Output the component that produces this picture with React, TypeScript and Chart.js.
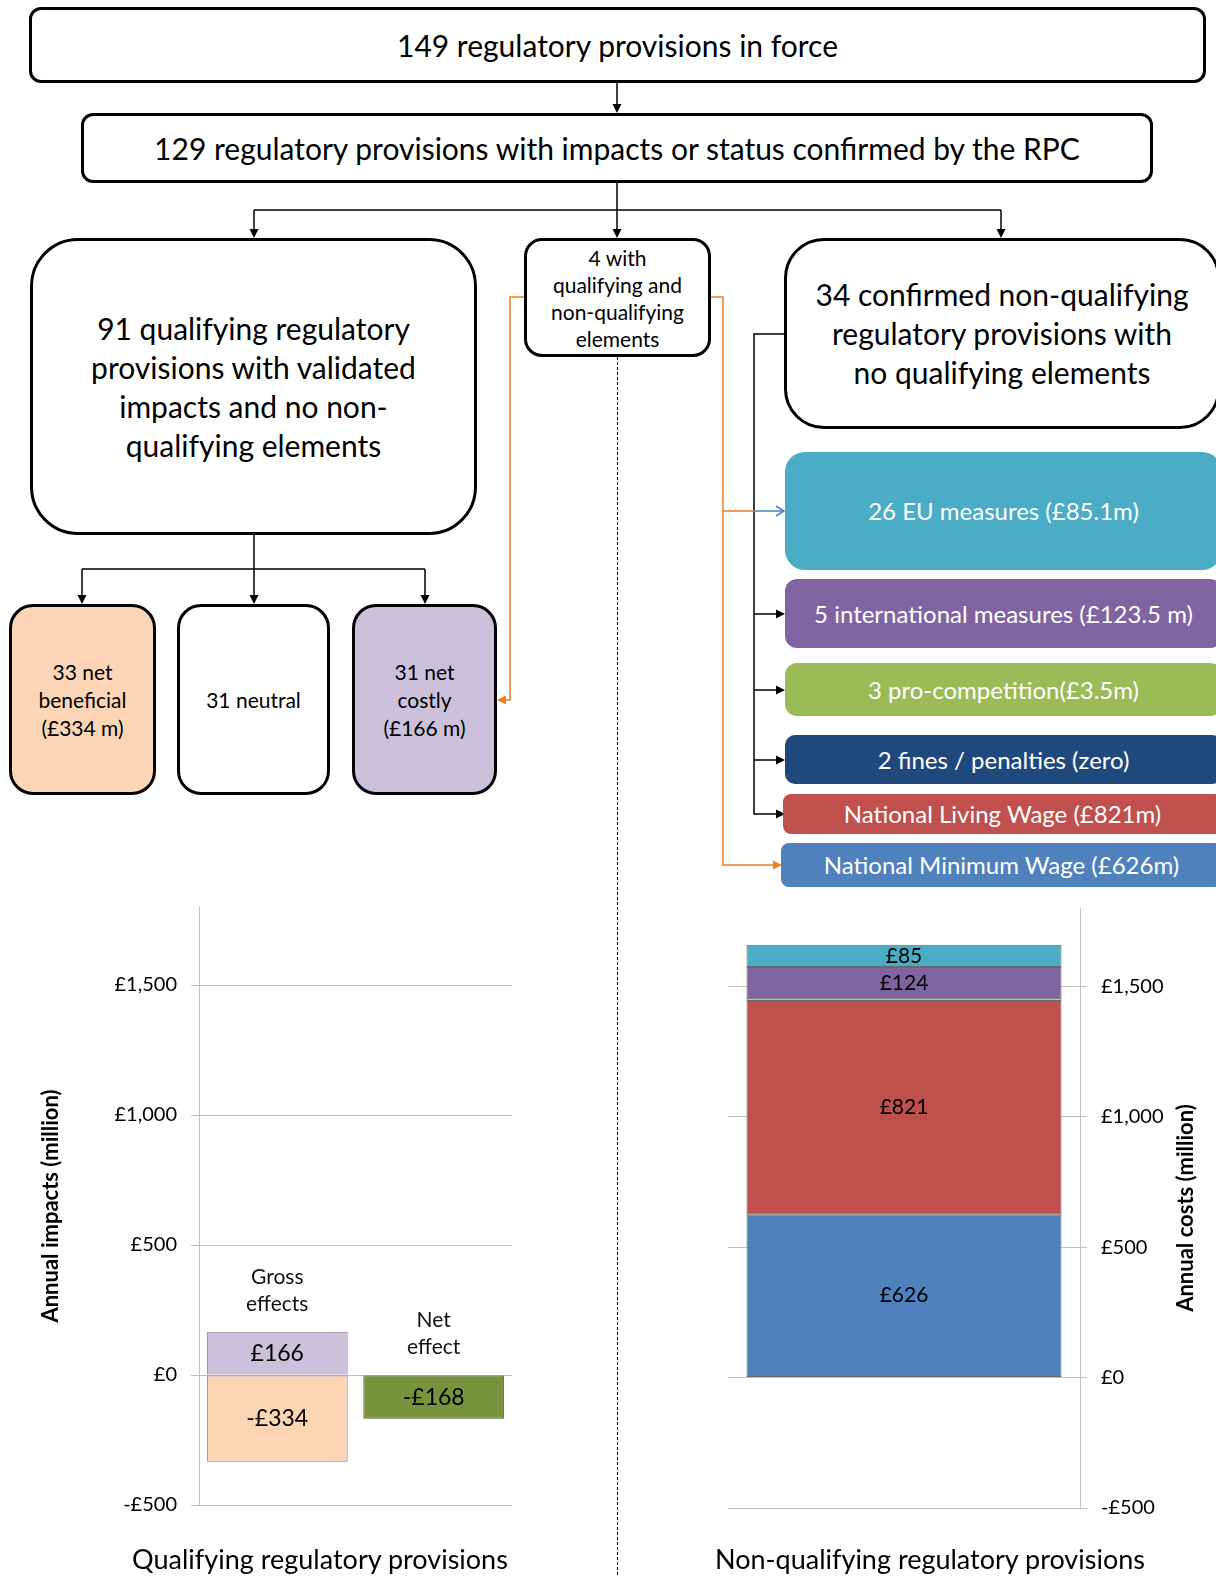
import React, { useEffect, useRef } from 'react';
import { Chart, registerables } from 'chart.js';

Chart.register(...registerables);

const FONT = 'Lato, "Open Sans", sans-serif';

// ---- Qualifying regulatory provisions chart ----
const qualCategories = [['Gross', 'effects'], ['Net', 'effect']];
const qualCosts = [166, null];
const qualBenefits = [-334, null];
const qualNet = [null, -168];

// ---- Non-qualifying regulatory provisions chart ----
const nonQualCategories = ['Non-qualifying regulatory provisions'];
const nmwValues = [626];
const nlwValues = [821];
const proCompValues = [3.5];
const finesValues = [0];
const intlValues = [123.5];
const euValues = [85.1];

// ---- Shared axis ----
const axisMin = -500;
const axisMax = 1800;
const tickValues = [-500, 0, 500, 1000, 1500];

const fmtMoney = (v: number) => (v < 0 ? '-£' : '£') + Math.abs(Math.round(v)).toLocaleString('en-GB');

const segmentLabels = {
  id: 'segmentLabels',
  afterDatasetsDraw(chart: any, _args: any, opts: any) {
    const { ctx } = chart;
    ctx.save();
    ctx.font = opts.font;
    ctx.fillStyle = opts.color || '#000';
    ctx.textAlign = 'center';
    ctx.textBaseline = 'middle';
    chart.data.datasets.forEach((ds: any, di: number) => {
      const meta = chart.getDatasetMeta(di);
      meta.data.forEach((el: any, i: number) => {
        const v = ds.data[i];
        if (v == null || Math.abs(v) < (opts.minValue || 0)) return;
        const p = el.getProps(['x', 'y', 'base'], true);
        ctx.fillText(fmtMoney(v), p.x, (p.y + p.base) / 2 + (opts.dy || 0));
      });
    });
    ctx.restore();
  },
};

const categoryAbove = {
  id: 'categoryAbove',
  afterDatasetsDraw(chart: any, _args: any, opts: any) {
    if (!opts || !opts.enabled) return;
    const { ctx } = chart;
    const ys = chart.scales.y;
    ctx.save();
    ctx.font = opts.font;
    ctx.fillStyle = opts.color || '#000';
    ctx.textAlign = 'center';
    ctx.textBaseline = 'middle';
    (chart.data.labels as any[]).forEach((lab, i) => {
      let top = 0;
      let x: number | null = null;
      chart.data.datasets.forEach((ds: any, di: number) => {
        const v = ds.data[i];
        if (v == null) return;
        if (v > 0) top += v;
        x = chart.getDatasetMeta(di).data[i].x;
      });
      if (x == null) return;
      const lines = Array.isArray(lab) ? lab : [lab];
      const yLast = ys.getPixelForValue(top) - opts.gap;
      lines.forEach((ln: string, k: number) => {
        ctx.fillText(ln, x, yLast - (lines.length - 1 - k) * opts.lineHeight);
      });
    });
    ctx.restore();
  },
};

const tickFont = { family: FONT, size: 20 };
const gridColor = '#BFBFBF';

const yAxisBase = (width: number) => ({
  stacked: true,
  min: axisMin,
  max: axisMax,
  ticks: {
    font: tickFont,
    color: '#000',
    padding: 14,
    callback: (v: any) => fmtMoney(Number(v)),
  },
  afterBuildTicks: (s: any) => { s.ticks = tickValues.map((v) => ({ value: v })); },
  afterFit: (s: any) => { s.width = width; s.paddingTop = 0; s.paddingBottom = 0; },
  border: { color: gridColor },
});

function QualChart() {
  const ref = useRef<HTMLCanvasElement>(null);
  useEffect(() => {
    const chart = new Chart(ref.current as HTMLCanvasElement, {
      type: 'bar',
      data: {
        labels: qualCategories as any,
        datasets: [
          { label: 'Gross costs', data: qualCosts, backgroundColor: '#CCC1DA', borderColor: '#7F7F7F', borderWidth: 1, borderSkipped: false },
          { label: 'Gross benefits', data: qualBenefits, backgroundColor: '#FCD5B5', borderColor: '#7F7F7F', borderWidth: 1, borderSkipped: false },
          { label: 'Net effect', data: qualNet, backgroundColor: '#77933C', borderColor: '#4A5A2A', borderWidth: 1, borderSkipped: false },
        ] as any,
      },
      options: {
        animation: false,
        responsive: false,
        layout: { padding: { left: 0, right: 128, top: 17, bottom: 71 } },
        datasets: { bar: { barPercentage: 0.9, categoryPercentage: 1 } } as any,
        plugins: {
          legend: { display: false },
          tooltip: { enabled: false },
          segmentLabels: { font: `23px ${FONT}`, color: '#000', minValue: 1 },
          categoryAbove: { enabled: true, font: `21px ${FONT}`, color: '#111', gap: 28, lineHeight: 27 },
        } as any,
        scales: {
          x: { stacked: true, display: false },
          y: {
            ...yAxisBase(199),
            grid: { color: gridColor, tickLength: 8, lineWidth: 1 },
            title: {
              display: true,
              text: 'Annual impacts (million)',
              font: { family: FONT, size: 22, weight: 'bold' },
              color: '#000',
              padding: { top: 38, bottom: 0 },
            },
          } as any,
        },
      },
      plugins: [segmentLabels, categoryAbove],
    });
    return () => chart.destroy();
  }, []);
  return <canvas ref={ref} width={640} height={686} style={{ position: 'absolute', left: 0, top: 890, width: 640, height: 686 }} />;
}

function NonQualChart() {
  const ref = useRef<HTMLCanvasElement>(null);
  useEffect(() => {
    const border = 'rgba(40,40,40,0.7)';
    const chart = new Chart(ref.current as HTMLCanvasElement, {
      type: 'bar',
      data: {
        labels: nonQualCategories,
        datasets: [
          { label: 'National Minimum Wage', data: nmwValues, backgroundColor: '#4F81BD', borderColor: border, borderWidth: 1, borderSkipped: false },
          { label: 'National Living Wage', data: nlwValues, backgroundColor: '#C0504D', borderColor: border, borderWidth: 1, borderSkipped: false },
          { label: 'Pro-competition', data: proCompValues, backgroundColor: '#9BBB59', borderColor: '#9BBB59', borderWidth: 0, borderSkipped: false },
          { label: 'Fines / penalties', data: finesValues, backgroundColor: '#1F497D', borderWidth: 0 },
          { label: 'International measures', data: intlValues, backgroundColor: '#8064A2', borderColor: border, borderWidth: 1, borderSkipped: false },
          { label: 'EU measures', data: euValues, backgroundColor: '#4BACC6', borderColor: border, borderWidth: 1, borderSkipped: false },
        ] as any,
      },
      options: {
        animation: false,
        responsive: false,
        layout: { padding: { left: 84, right: 0, top: 18, bottom: 68 } },
        datasets: { bar: { barPercentage: 0.895, categoryPercentage: 1 } } as any,
        plugins: {
          legend: { display: false },
          tooltip: { enabled: false },
          segmentLabels: { font: `21px ${FONT}`, color: '#000', minValue: 50 },
        } as any,
        scales: {
          x: { stacked: true, display: false },
          y: {
            ...yAxisBase(136),
            position: 'right',
            grid: { color: gridColor, tickLength: 7, lineWidth: 1 },
          } as any,
        },
      },
      plugins: [segmentLabels],
    });
    return () => chart.destroy();
  }, []);
  return <canvas ref={ref} width={572} height={686} style={{ position: 'absolute', left: 644, top: 890, width: 572, height: 686 }} />;
}

type BoxProps = {
  x: number; y: number; w: number; h: number; r: number;
  lines: string[]; size: number; lh: number;
  bg?: string; color?: string; border?: string;
};

function Box({ x, y, w, h, r, lines, size, lh, bg = '#fff', color = '#000', border = '3px solid #000' }: BoxProps) {
  return (
    <div
      style={{
        position: 'absolute', left: x, top: y, width: w, height: h, boxSizing: 'border-box',
        border, borderRadius: r, background: bg, color, display: 'flex', flexDirection: 'column',
        alignItems: 'center', justifyContent: 'center', textAlign: 'center', fontSize: size, lineHeight: `${lh}px`,
        fontFamily: FONT, whiteSpace: 'nowrap',
      }}
    >
      {lines.map((l, i) => <div key={i}>{l}</div>)}
    </div>
  );
}

function ArrowHead({ x, y, dir, color = '#000' }: { x: number; y: number; dir: 'down' | 'left' | 'right'; color?: string }) {
  const L = 9, W = 4.5;
  let pts = '';
  if (dir === 'down') pts = `${x},${y} ${x - W},${y - L} ${x + W},${y - L}`;
  if (dir === 'left') pts = `${x},${y} ${x + L},${y - W} ${x + L},${y + W}`;
  if (dir === 'right') pts = `${x},${y} ${x - L},${y - W} ${x - L},${y + W}`;
  return <polygon points={pts} fill={color} />;
}

function Connectors() {
  const k = '#000';
  const o = '#EE7D22';
  const b = '#4F81BD';
  return (
    <svg width={1216} height={1576} style={{ position: 'absolute', left: 0, top: 0 }}>
      <g stroke={k} strokeWidth={1.5} fill="none">
        <line x1={617} y1={83} x2={617} y2={106} />
        <line x1={617} y1={183} x2={617} y2={231} />
        <line x1={254} y1={210} x2={1001} y2={210} />
        <line x1={254} y1={210} x2={254} y2={231} />
        <line x1={1001} y1={210} x2={1001} y2={231} />
        <line x1={254} y1={535} x2={254} y2={597} />
        <line x1={82} y1={569} x2={425} y2={569} />
        <line x1={82} y1={569} x2={82} y2={597} />
        <line x1={425} y1={569} x2={425} y2={597} />
        <polyline points="784,334 754,334 754,814 777,814" />
        <line x1={754} y1={614} x2={777} y2={614} />
        <line x1={754} y1={690} x2={777} y2={690} />
        <line x1={754} y1={760} x2={777} y2={760} />
      </g>
      <ArrowHead x={617} y={113} dir="down" />
      <ArrowHead x={254} y={238} dir="down" />
      <ArrowHead x={617} y={238} dir="down" />
      <ArrowHead x={1001} y={238} dir="down" />
      <ArrowHead x={82} y={604} dir="down" />
      <ArrowHead x={254} y={604} dir="down" />
      <ArrowHead x={425} y={604} dir="down" />
      <ArrowHead x={785} y={614} dir="right" />
      <ArrowHead x={785} y={690} dir="right" />
      <ArrowHead x={785} y={760} dir="right" />
      <ArrowHead x={785} y={814} dir="right" />
      <g stroke={o} strokeWidth={1.5} fill="none">
        <polyline points="524,297 510,297 510,700 504,700" />
        <polyline points="711,297 723,297 723,865 775,865" />
        <line x1={723} y1={511} x2={754} y2={511} />
      </g>
      <ArrowHead x={497} y={700} dir="left" color={o} />
      <ArrowHead x={782} y={865} dir="right" color={o} />
      <g stroke={b} strokeWidth={1.5} fill="none">
        <line x1={754} y1={511} x2={784} y2={511} />
        <polyline points="776,506 784,511 776,516" />
      </g>
      <line x1={617.5} y1={357} x2={617.5} y2={1576} stroke={k} strokeWidth={1} strokeDasharray="3,2" />
    </svg>
  );
}

export default function App() {
  return (
    <div style={{ position: 'absolute', left: 0, top: 0, width: 1216, height: 1576, overflow: 'hidden', background: '#fff', fontFamily: FONT }}>
      <Connectors />
      <Box x={29} y={7} w={1177} h={76} r={12} lines={['149 regulatory provisions in force']} size={30} lh={36} />
      <Box x={81} y={113} w={1072} h={70} r={12} lines={['129 regulatory provisions with impacts or status confirmed by the RPC']} size={30} lh={36} />
      <Box x={30} y={238} w={447} h={297} r={48} lines={['91 qualifying regulatory', 'provisions with validated', 'impacts and no non-', 'qualifying elements']} size={30} lh={39} />
      <Box x={524} y={238} w={187} h={119} r={18} lines={['4 with', 'qualifying and', 'non-qualifying', 'elements']} size={21} lh={27} />
      <Box x={784} y={238} w={436} h={191} r={40} lines={['34 confirmed non-qualifying', 'regulatory provisions with', 'no qualifying elements']} size={30} lh={39} />
      <Box x={9} y={604} w={147} h={191} r={24} bg="#FBD5B5" lines={['33 net', 'beneficial', '(£334 m)']} size={21} lh={28} />
      <Box x={177} y={604} w={153} h={191} r={24} lines={['31 neutral']} size={21} lh={28} />
      <Box x={352} y={604} w={145} h={191} r={24} bg="#CCC1DA" lines={['31 net', 'costly', '(£166 m)']} size={21} lh={28} />
      <Box x={785} y={452} w={437} h={118} r={20} bg="#4BACC6" color="#fff" border="none" lines={['26 EU measures (£85.1m)']} size={24} lh={28} />
      <Box x={785} y={579} w={437} h={69} r={12} bg="#8064A2" color="#fff" border="none" lines={['5 international measures (£123.5 m)']} size={24} lh={28} />
      <Box x={785} y={663} w={437} h={53} r={12} bg="#9BBB59" color="#fff" border="none" lines={['3 pro-competition(£3.5m)']} size={24} lh={28} />
      <Box x={785} y={735} w={437} h={49} r={10} bg="#1F497D" color="#fff" border="none" lines={['2 fines / penalties (zero)']} size={24} lh={28} />
      <Box x={783} y={794} w={439} h={40} r={8} bg="#C0504D" color="#fff" border="none" lines={['National Living Wage (£821m)']} size={24} lh={28} />
      <Box x={781} y={843} w={441} h={44} r={8} bg="#4F81BD" color="#fff" border="none" lines={['National Minimum Wage (£626m)']} size={24} lh={28} />
      <QualChart />
      <NonQualChart />
      <div style={{ position: 'absolute', left: 1185 - 150, top: 1208 - 14, width: 300, height: 28, lineHeight: '28px', textAlign: 'center', transform: 'rotate(-90deg)', fontFamily: FONT, fontWeight: 'bold', fontSize: 22, color: '#000' }}>
        Annual costs (million)
      </div>
      <div style={{ position: 'absolute', left: 320 - 250, top: 1559 - 17, width: 500, lineHeight: '34px', textAlign: 'center', fontFamily: FONT, fontSize: 27, color: '#000' }}>
        Qualifying regulatory provisions
      </div>
      <div style={{ position: 'absolute', left: 930 - 250, top: 1559 - 17, width: 500, lineHeight: '34px', textAlign: 'center', fontFamily: FONT, fontSize: 27, color: '#000' }}>
        Non-qualifying regulatory provisions
      </div>
    </div>
  );
}
